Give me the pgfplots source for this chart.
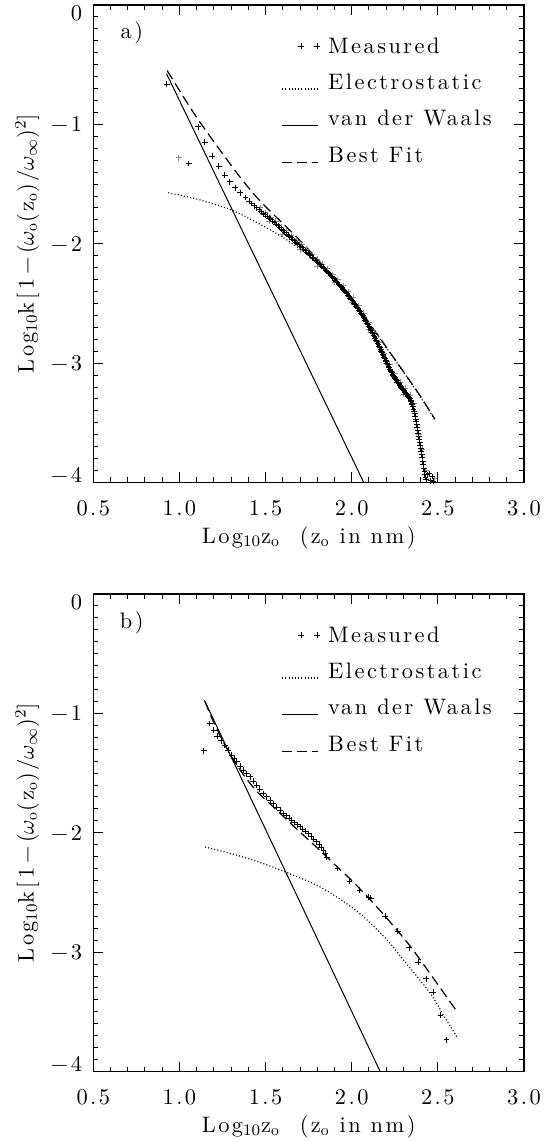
\documentclass[border=0pt]{standalone}
\usepackage{fontspec}
\setmainfont{lmroman10-regular}[Extension=.otf, LetterSpace=11]
\usepackage{pgfplots}
\pgfplotsset{compat=1.18}

\pgfplotsset{
  panel/.style={
    scale only axis, width=215.35pt, height=238.75pt,
    xmin=0.5, xmax=3.0, ymin=-4, ymax=0,
    xtick={0.5,1,1.5,2,2.5,3}, xticklabels={0.5,1.0,1.5,2.0,2.5,3.0},
    ytick={-4,-3,-2,-1,0},
    yticklabels={\smash{−4},−3,−2,−1,\smash{\raisebox{-7.6pt}{0}}},
    minor x tick num=4, minor y tick num=9,
    tick align=inside, tick pos=both,
    major tick length=5pt, minor tick length=2.5pt,
    every tick/.style={black, line width=0.5pt},
    axis line style={line width=0.6pt},
    xticklabel style={anchor=center, yshift=-13pt},
    yticklabel style={anchor=east, xshift=-1.7pt},
    xlabel={Log$_{10}$z$_{\mathrm{o}}$\ \ (z$_{\mathrm{o}}$\ in\ nm)},
    ylabel={Log$_{10}$k[\,1\,−\,($\omega_{\mathrm{o}}$(z$_{\mathrm{o}}$)/$\omega_{\infty}$)$^{2}$]},
    xlabel style={at={(axis description cs:0.5,0)}, anchor=center, yshift=-27.5pt},
    ylabel style={at={(axis description cs:-0.1532,0.5)}, anchor=center},
    legend style={at={(0.4365,0.9338)}, anchor=north west, draw=none, fill=none,
      inner sep=0pt, row sep=10pt,
      nodes={inner sep=0pt, text height=8pt, text depth=0pt, anchor=base west},
      /tikz/every odd column/.append style={column sep=4pt}},
    legend cell align=left,
    legend image code/.code={\draw[##1] (0pt,0pt) -- (17.8pt,0pt);},
  },
  meas/.style={only marks, mark=+, mark size=1.45pt, mark options={line width=0.45pt, black}, black,
    legend image code/.code={\draw[##1] plot coordinates {(9.5pt,3.5pt) (17.5pt,3.5pt)};}},
  measgray/.style={only marks, mark=+, mark size=1.45pt, mark options={line width=0.45pt, black!45}, forget plot},
  elec/.style={black, line width=0.6pt, dash pattern=on 0.5pt off 1.1pt, smooth},
  vdw/.style={black, line width=0.5pt},
  fit/.style={black, line width=0.6pt, dash pattern=on 5pt off 2.5pt, smooth},
}

\begin{document}
\fontsize{11.2}{13.4}\selectfont
\begin{tikzpicture}

% ---------- panel a ----------
\begin{axis}[panel, at={(0,0)}, anchor=north west]
% lighter marks of the measured cloud
\addplot[measgray] coordinates {
(0.997,-1.280)
(1.47,-1.70) (1.50,-1.74) (1.53,-1.78) (1.56,-1.81) (1.59,-1.86) (1.62,-1.89)
(1.65,-1.93) (1.68,-1.97) (1.71,-2.01) (1.74,-2.05) (1.77,-2.09) (1.80,-2.13)
(1.83,-2.17) (1.86,-2.21) (1.89,-2.26) (1.92,-2.30) (1.95,-2.35) (1.98,-2.40)
(2.01,-2.45) (2.04,-2.52) (2.07,-2.58) (2.10,-2.66) (2.13,-2.74) (2.16,-2.83)
(2.19,-2.92) (2.22,-3.01) (2.25,-3.09) (2.28,-3.16) (2.31,-3.21) (2.34,-3.27)
(2.36,-3.34) (1.52,-1.81) (1.60,-1.92) (1.70,-2.05) (1.80,-2.19) (1.90,-2.32)
(2.00,-2.49) (2.10,-2.72) (2.20,-3.00) (2.30,-3.26) (2.39,-3.60) (2.41,-3.72)
(2.43,-3.90) (2.48,-3.97)
};
\addplot[meas] coordinates {
(0.926,-0.662) (1.055,-1.327) (1.109,-1.020) (1.148,-1.150)
(1.191,-1.266) (1.228,-1.352) (1.264,-1.424) (1.293,-1.481) (1.324,-1.530)
(1.353,-1.572) (1.383,-1.613) (1.405,-1.645) (1.419,-1.662) (1.434,-1.682)
(1.448,-1.700) (1.462,-1.716) (1.475,-1.732) (1.487,-1.748) (1.498,-1.758)
(1.510,-1.770) (1.520,-1.785) (1.530,-1.795) (1.541,-1.810) (1.552,-1.822)
(1.562,-1.838) (1.572,-1.850) (1.582,-1.862) (1.592,-1.878) (1.601,-1.892)
(1.611,-1.903) (1.621,-1.918) (1.630,-1.928) (1.640,-1.942) (1.649,-1.951)
(1.658,-1.962) (1.667,-1.976) (1.676,-1.986) (1.685,-1.998) (1.694,-2.010)
(1.703,-2.024) (1.712,-2.034) (1.721,-2.047) (1.729,-2.056) (1.738,-2.070)
(1.746,-2.080) (1.755,-2.092) (1.763,-2.101) (1.771,-2.114) (1.779,-2.122)
(1.787,-2.136) (1.795,-2.143) (1.803,-2.156) (1.811,-2.166) (1.819,-2.177)
(1.826,-2.188) (1.834,-2.198) (1.841,-2.208) (1.849,-2.220) (1.856,-2.229)
(1.863,-2.240) (1.870,-2.250) (1.877,-2.262) (1.884,-2.271) (1.891,-2.283)
(1.898,-2.294) (1.905,-2.304) (1.911,-2.316) (1.918,-2.325) (1.924,-2.338)
(1.931,-2.346) (1.937,-2.358) (1.944,-2.368) (1.950,-2.380) (1.956,-2.390)
(1.962,-2.400) (1.968,-2.410) (1.974,-2.420) (1.980,-2.433) (1.986,-2.442)
(1.992,-2.455) (1.998,-2.464) (2.004,-2.478) (2.010,-2.486) (2.015,-2.500)
(2.021,-2.510) (2.026,-2.522) (2.032,-2.532) (2.037,-2.546) (2.043,-2.556)
(2.048,-2.570) (2.053,-2.580) (2.058,-2.594) (2.064,-2.604) (2.069,-2.618)
(2.074,-2.628) (2.079,-2.642) (2.084,-2.654) (2.089,-2.666) (2.094,-2.678)
(2.099,-2.690) (2.104,-2.702) (2.109,-2.715) (2.113,-2.728) (2.118,-2.740)
(2.123,-2.752) (2.127,-2.766) (2.132,-2.780) (2.137,-2.792) (2.141,-2.806)
(2.146,-2.818) (2.150,-2.832) (2.155,-2.846) (2.159,-2.858) (2.163,-2.872)
(2.168,-2.884) (2.172,-2.898) (2.176,-2.910) (2.180,-2.924) (2.185,-2.936)
(2.189,-2.950) (2.193,-2.962) (2.197,-2.975) (2.201,-2.988) (2.205,-3.000)
(2.209,-3.014) (2.213,-3.025) (2.217,-3.038) (2.221,-3.050) (2.225,-3.060)
(2.229,-3.072) (2.233,-3.082) (2.237,-3.094) (2.241,-3.104) (2.245,-3.112)
(2.249,-3.122) (2.253,-3.130) (2.257,-3.140) (2.261,-3.148) (2.265,-3.158)
(2.269,-3.166) (2.273,-3.174) (2.277,-3.182) (2.280,-3.190) (2.284,-3.196)
(2.288,-3.204) (2.292,-3.210) (2.295,-3.218) (2.299,-3.224) (2.303,-3.232)
(2.306,-3.238) (2.310,-3.246) (2.314,-3.252) (2.317,-3.260) (2.321,-3.266)
(2.324,-3.272) (2.328,-3.278) (2.331,-3.286) (2.335,-3.292) (2.338,-3.300)
(2.342,-3.310) (2.345,-3.322) (2.349,-3.336) (2.352,-3.350) (2.355,-3.366)
(2.359,-3.384) (2.362,-3.404) (2.365,-3.424) (2.368,-3.446) (2.371,-3.468)
(2.374,-3.490) (2.377,-3.514) (2.380,-3.538) (2.383,-3.562) (2.386,-3.588)
(2.389,-3.612) (2.392,-3.638) (2.395,-3.662) (2.398,-3.688) (2.401,-3.712)
(2.404,-3.738) (2.407,-3.762) (2.410,-3.790) (2.413,-3.820) (2.416,-3.850)
(2.419,-3.880) (2.422,-3.906) (2.425,-3.932) (2.428,-3.956) (2.431,-3.978)
(2.440,-3.935) (2.450,-3.926) (2.458,-3.985) (2.466,-3.950) (2.473,-3.990)
};
\addlegendentry{Measured}
\addplot[elec] coordinates {
(0.935,-1.573) (1.100,-1.625) (1.303,-1.718) (1.467,-1.836) (1.611,-1.956)
(1.750,-2.100) (1.850,-2.240) (1.950,-2.390) (2.050,-2.570) (2.145,-2.755)
(2.222,-2.915) (2.300,-3.075) (2.400,-3.285) (2.483,-3.475)
};
\addlegendentry{Electrostatic}
\addplot[vdw] coordinates {(0.925,-0.575) (2.070,-4.000)};
\addlegendentry{van der Waals}
\addplot[fit] coordinates {
(0.929,-0.550) (1.090,-0.920) (1.235,-1.215) (1.351,-1.440) (1.448,-1.610)
(1.550,-1.760) (1.650,-1.900) (1.750,-2.050) (1.850,-2.210) (1.950,-2.380)
(2.050,-2.560) (2.145,-2.750) (2.222,-2.910) (2.300,-3.070) (2.400,-3.280)
(2.483,-3.470)
};
\addlegendentry{Best Fit}
\node at (rel axis cs:0.0894,0.9414) {a)};
\end{axis}

% ---------- panel b ----------
\begin{axis}[panel, at={(0,-294.5pt)}, anchor=north west]
\addplot[meas] coordinates {
(1.142,-1.314) (1.177,-1.085) (1.200,-1.140) (1.220,-1.190) (1.242,-1.228)
(1.264,-1.266) (1.284,-1.310) (1.303,-1.350) (1.318,-1.378) (1.332,-1.406)
(1.352,-1.442) (1.371,-1.476) (1.390,-1.505) (1.410,-1.532) (1.428,-1.566)
(1.448,-1.600) (1.467,-1.636) (1.487,-1.671) (1.506,-1.700) (1.526,-1.727)
(1.545,-1.756) (1.564,-1.784) (1.584,-1.812) (1.603,-1.839) (1.620,-1.858)
(1.636,-1.876) (1.652,-1.895) (1.668,-1.914) (1.684,-1.932) (1.700,-1.951)
(1.716,-1.970) (1.732,-1.988) (1.748,-2.007) (1.764,-2.030) (1.780,-2.052)
(1.797,-2.077) (1.810,-2.100) (1.823,-2.124) (1.836,-2.147) (1.845,-2.175)
(1.855,-2.203) (1.917,-2.300) (1.987,-2.404) (2.045,-2.482) (2.100,-2.540)
(2.110,-2.548) (2.193,-2.700) (2.268,-2.823) (2.334,-2.963) (2.385,-3.083)
(2.431,-3.222) (2.474,-3.335) (2.515,-3.530) (2.550,-3.734)
};
\addlegendentry{Measured}
\addplot[elec] coordinates {
(1.148,-2.119) (1.302,-2.175) (1.450,-2.240) (1.600,-2.320) (1.818,-2.455)
(2.024,-2.650) (2.189,-2.873) (2.334,-3.125) (2.458,-3.349) (2.540,-3.545)
(2.612,-3.713)
};
\addlegendentry{Electrostatic}
\addplot[vdw] coordinates {(1.145,-0.890) (2.165,-4.000)};
\addlegendentry{van der Waals}
\addplot[fit] coordinates {
(1.148,-0.900) (1.200,-1.080) (1.281,-1.310) (1.360,-1.490) (1.447,-1.650)
(1.550,-1.790) (1.674,-1.960) (1.750,-2.060) (1.839,-2.180) (1.911,-2.280)
(2.000,-2.400) (2.107,-2.560) (2.200,-2.710) (2.334,-2.940) (2.450,-3.170)
(2.612,-3.500)
};
\addlegendentry{Best Fit}
\node at (rel axis cs:0.0894,0.9392) {b)};
\end{axis}

\pgfresetboundingbox
\path (-46.65pt,2.5pt) rectangle (232.35pt,-568.5pt);
\end{tikzpicture}
\end{document}
